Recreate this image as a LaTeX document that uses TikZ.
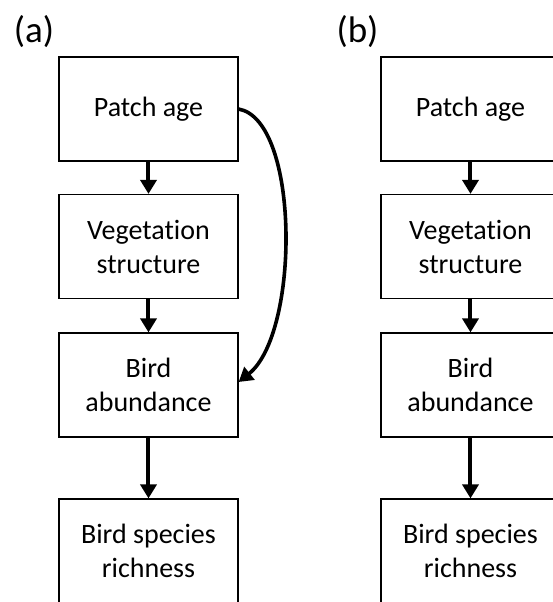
\documentclass[tikz,border=0pt]{standalone}
\usepackage{fontspec}
\setmainfont{Carlito}[Ligatures=NoCommon]
\usepackage{tikz}
\usetikzlibrary{arrows.meta}

\begin{document}
\begin{tikzpicture}[x=0.5pt, y=-0.5pt,
		box/.style={draw, line width=0.6pt, minimum width=89.5pt, minimum height=52pt, align=center, inner sep=0pt, font=\fontsize{14}{17}\selectfont},
		link/.style={line width=2pt, -{Triangle[width=8pt, length=7pt]}},
		panel/.style={inner sep=0pt, font=\fontsize{18.5}{22}\selectfont}]
	\useasboundingbox (0,0) rectangle (553,602);
		\foreach[count=\i] \lpanel/\px/\lx in {a/148.5/34, b/470.5/357.5} {
			\node[panel] (lab-\lpanel) at (\lx,31.5) {(\lpanel)};
			\foreach[count=\j] \ltext/\ly in {{Patch age}/109, {Vegetation\\structure}/246.5, {Bird\\abundance}/385, {Bird species\\richness}/551} {
				\node[box] (n-\j-\lpanel) at (\px,\ly) {\ltext};
			}
			\draw[link] (n-1-\lpanel) -- (n-2-\lpanel);
			\draw[link] (n-2-\lpanel) -- (n-3-\lpanel);
			\draw[link] (n-3-\lpanel) -- (n-4-\lpanel);
		}
		\draw[link, line width=1.8pt] (n-1-a.east) .. controls (300,120) and (300,333) .. ([yshift=1.5pt]n-3-a.east);
	\end{tikzpicture}
\end{document}
